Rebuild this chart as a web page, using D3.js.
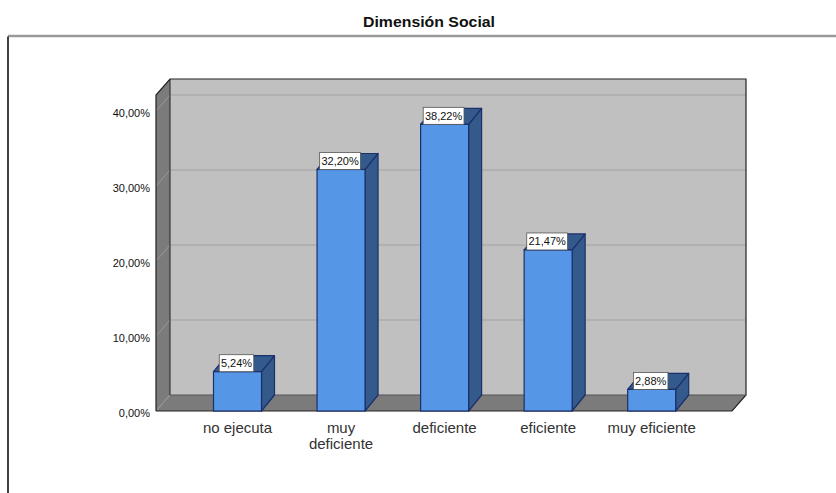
<!DOCTYPE html>
<html>
<head>
<meta charset="utf-8">
<script src="https://cdn.jsdelivr.net/npm/d3@7"></script>
<style>
  html, body { margin: 0; padding: 0; background: #fff; }
  svg { display: block; font-family: "Liberation Sans", Arial, sans-serif; }
</style>
</head>
<body>
<svg id="chart" width="836" height="493"></svg>
<script>
// ---- data ----
const categories = ["no ejecuta", "muy deficiente", "deficiente", "eficiente", "muy eficiente"];
const categoryLabels = [["no ejecuta"], ["muy", "deficiente"], ["deficiente"], ["eficiente"], ["muy eficiente"]];
const percentages = [5.24, 32.20, 38.22, 21.47, 2.88];
const yTicks = [0, 10, 20, 30, 40];
const title = "Dimensión Social";

// ---- layout ----
const svg = d3.select("#chart");
const W = 836, H = 493;
const front = { left: 156, right: 732, bottom: 411, top: 95 };
const depth = { dx: 14, dy: -16 };
const barDepth = { dx: 13, dy: -16 };
const barWidth = 48;

const y = d3.scaleLinear().domain([0, 42.13]).range([front.bottom, front.top]);
const x = d3.scalePoint().domain(categories).range([237.5, 651.7]);
const fmt = v => d3.format(".2f")(v).replace(".", ",") + "%";

// frame
svg.append("line").attr("x1", 8).attr("x2", W).attr("y1", 36).attr("y2", 36)
  .attr("stroke", "#9a9a9a").attr("stroke-width", 2.5);
svg.append("line").attr("x1", 8).attr("x2", 8).attr("y1", 36.5).attr("y2", H)
  .attr("stroke", "#111").attr("stroke-width", 1.6);

// title
svg.append("text").attr("x", 429).attr("y", 27).attr("text-anchor", "middle")
  .attr("font-size", 15).attr("font-weight", "bold").attr("fill", "#111")
  .attr("textLength", 132).attr("lengthAdjust", "spacingAndGlyphs")
  .text(title);

const g = svg.append("g");
const bx0 = front.left + depth.dx, bx1 = front.right + depth.dx;
const by = v => y(v) + depth.dy;

// back wall
g.append("rect").attr("x", bx0).attr("y", by(42.13)).attr("width", bx1 - bx0)
  .attr("height", by(0) - by(42.13)).attr("fill", "#c0c0c0");

// side wall
g.append("polygon")
  .attr("points", [[front.left, y(42.13)], [bx0, by(42.13)], [bx0, by(0)], [front.left, y(0)]].join(" "))
  .attr("fill", "#7b7b7b");

// floor
g.append("polygon")
  .attr("points", [[front.left, y(0)], [bx0, by(0)], [bx1, by(0)], [front.right, y(0)]].join(" "))
  .attr("fill", "#7b7b7b");

// gridlines
yTicks.filter(t => t > 0).forEach(t => {
  g.append("line").attr("x1", bx0).attr("x2", bx1).attr("y1", by(t)).attr("y2", by(t))
    .attr("stroke", "#adadad").attr("stroke-width", 1.5);
  g.append("line").attr("x1", front.left).attr("x2", bx0).attr("y1", y(t)).attr("y2", by(t))
    .attr("stroke", "#9a9a9a").attr("stroke-width", 1);
});
g.append("line").attr("x1", front.left).attr("x2", bx0).attr("y1", y(0)).attr("y2", by(0))
  .attr("stroke", "#9a9a9a").attr("stroke-width", 1);

// outlines
const ol = "#222";
g.append("polyline")
  .attr("points", [[front.left, y(0)], [front.left, y(42.13)], [bx0, by(42.13)], [bx1, by(42.13)], [bx1, by(0)], [front.right, y(0)], [front.left, y(0)]].join(" "))
  .attr("fill", "none").attr("stroke", ol).attr("stroke-width", 1.2);
g.append("line").attr("x1", bx0).attr("x2", bx0).attr("y1", by(42.13)).attr("y2", by(0))
  .attr("stroke", ol).attr("stroke-width", 1);
g.append("line").attr("x1", bx0).attr("x2", bx1).attr("y1", by(0)).attr("y2", by(0))
  .attr("stroke", "#555").attr("stroke-width", 1);

// y axis
const yAxis = d3.axisLeft(y).tickValues(yTicks).tickSize(0).tickPadding(6).tickFormat(fmt);
const ya = svg.append("g").attr("transform", `translate(${front.left},0)`).call(yAxis);
ya.select(".domain").remove();
ya.selectAll("text").attr("font-size", 11).attr("fill", "#111").attr("dy", "0.5em")
  .attr("font-family", "Liberation Sans, Arial, sans-serif");

// bars
const bars = svg.append("g").selectAll("g").data(categories).join("g");
const barStroke = "#1b2f6b";
bars.each(function (c, i) {
  const sel = d3.select(this);
  const v = percentages[i];
  const xl = x(c) - barWidth / 2, xr = x(c) + barWidth / 2;
  const yt = y(v), yb = y(0);
  sel.append("polygon")
    .attr("points", [[xr, yb], [xr, yt], [xr + barDepth.dx, yt + barDepth.dy], [xr + barDepth.dx, yb + barDepth.dy]].join(" "))
    .attr("fill", "#345a8c").attr("stroke", barStroke).attr("stroke-width", 1.2).attr("stroke-linejoin", "round");
  sel.append("polygon")
    .attr("points", [[xl, yt], [xl + barDepth.dx, yt + barDepth.dy], [xr + barDepth.dx, yt + barDepth.dy], [xr, yt]].join(" "))
    .attr("fill", "#345a8c").attr("stroke", barStroke).attr("stroke-width", 1.2).attr("stroke-linejoin", "round");
  sel.append("rect").attr("x", xl).attr("y", yt).attr("width", barWidth).attr("height", yb - yt)
    .attr("fill", "#5596e6").attr("stroke", barStroke).attr("stroke-width", 1.2);
  const txt = fmt(v);
  const lw = txt.length * 6.3 + 3;
  sel.append("rect").attr("x", x(c) - lw / 2 - 1).attr("y", yt - 17).attr("width", lw).attr("height", 17)
    .attr("fill", "#fff").attr("stroke", "#555").attr("stroke-width", 0.8);
  sel.append("text").attr("x", x(c) - 1).attr("y", yt - 4.5).attr("text-anchor", "middle")
    .attr("font-size", 11).attr("fill", "#111").text(txt);
});

// x labels
const xlab = svg.append("g");
categories.forEach((c, i) => {
  const t = xlab.append("text").attr("x", x(c)).attr("y", 433).attr("text-anchor", "middle")
    .attr("font-size", 15).attr("fill", "#333");
  categoryLabels[i].forEach((line, j) => {
    t.append("tspan").attr("x", x(c)).attr("dy", j === 0 ? 0 : 16).text(line);
  });
});
</script>
</body>
</html>
